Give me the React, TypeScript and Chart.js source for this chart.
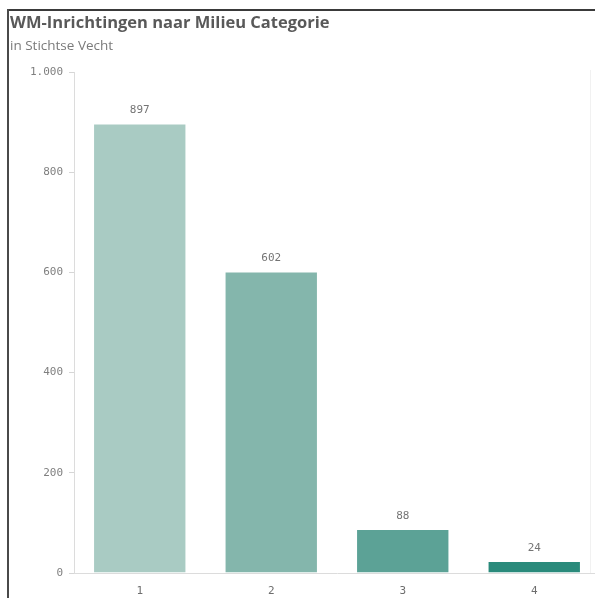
import React, { useEffect, useRef } from "react";
import { Chart, registerables } from "chart.js";

Chart.register(...registerables);

const categories = ["1", "2", "3", "4"];
const values = [897, 602, 88, 24];
const barColors = ["#a9cbc3", "#84b6ac", "#5ca296", "#2a8a7b"];
const yTickValues = [0, 200, 400, 600, 800, 1000];
const yTickLabels = ["0", "200", "400", "600", "800", "1.000"];
const title = "WM-Inrichtingen naar Milieu Categorie";
const subtitle = "in Stichtse Vecht";

const MONO = "'DejaVu Sans Mono', monospace";

const valueLabels = {
  id: "valueLabels",
  afterDatasetsDraw(chart: any) {
    const ctx = chart.ctx;
    const meta = chart.getDatasetMeta(0);
    ctx.save();
    ctx.font = `11px ${MONO}`;
    ctx.fillStyle = "#747474";
    ctx.textAlign = "center";
    ctx.textBaseline = "middle";
    meta.data.forEach((bar: any, i: number) => {
      ctx.fillText(String(values[i]), bar.x, bar.y - 13);
    });
    ctx.restore();
  },
};

export default function App() {
  const ref = useRef<HTMLCanvasElement>(null);

  useEffect(() => {
    if (!ref.current) return;
    const chart = new Chart(ref.current, {
      type: "bar",
      data: {
        labels: categories,
        datasets: [
          {
            data: values,
            backgroundColor: barColors,
            borderColor: "rgba(255,255,255,0.6)",
            borderWidth: 1,
            categoryPercentage: 0.71,
            barPercentage: 1,
          },
        ],
      },
      plugins: [valueLabels],
      options: {
        responsive: false,
        animation: false,
        layout: { padding: { top: 72, right: 10, left: 0, bottom: 0 } },
        plugins: {
          legend: { display: false },
          tooltip: { enabled: false },
          title: { display: false },
        },
        scales: {
          x: {
            grid: { display: false, drawTicks: false },
            border: { display: true, color: "#dcdcdc", width: 1 },
            ticks: {
              color: "#6e6e6e",
              font: { family: MONO, size: 11 },
              padding: 12,
            },
            afterFit(scale: any) {
              scale.height = 37;
            },
          },
          y: {
            min: 0,
            max: 1000,
            afterBuildTicks(scale: any) {
              scale.ticks = yTickValues.map((v) => ({ value: v }));
            },
            grid: {
              drawOnChartArea: false,
              drawTicks: true,
              tickLength: 5,
              color: "#d6d6d6",
            },
            border: { display: true, color: "#dcdcdc", width: 1 },
            ticks: {
              color: "#7f7f7f",
              font: { family: MONO, size: 11 },
              padding: 6,
              callback: (_v: any, i: number) => yTickLabels[i],
            },
            afterFit(scale: any) {
              scale.width = 74;
            },
          },
        },
      },
    });
    return () => chart.destroy();
  }, []);

  return (
    <div
      style={{
        position: "fixed",
        left: 0,
        top: 0,
        width: 595,
        height: 598,
        overflow: "hidden",
        background: "#ffffff",
      }}
    >
      <canvas
        ref={ref}
        width={610}
        height={610}
        style={{ position: "absolute", left: 0, top: 0, width: 610, height: 610 }}
      />
      <div style={{ position: "absolute", left: 8, top: 9, width: 587, height: 2, background: "#3a3a3a" }} />
      <div style={{ position: "absolute", left: 7, top: 9, width: 2, height: 589, background: "#4a4a4a" }} />
      <div style={{ position: "absolute", left: 590, top: 70, width: 1, height: 503, background: "#f1f1f1" }} />
      <div
        style={{
          position: "absolute",
          left: 10,
          top: 11,
          fontFamily: "'Open Sans', sans-serif",
          fontWeight: 700,
          fontSize: 16.5,
          lineHeight: "22px",
          color: "#595959",
          whiteSpace: "nowrap",
        }}
      >
        {title}
      </div>
      <div
        style={{
          position: "absolute",
          left: 10,
          top: 36,
          fontFamily: "'Open Sans', sans-serif",
          fontSize: 13.5,
          lineHeight: "18px",
          color: "#7a7a7a",
          whiteSpace: "nowrap",
        }}
      >
        {subtitle}
      </div>
    </div>
  );
}
